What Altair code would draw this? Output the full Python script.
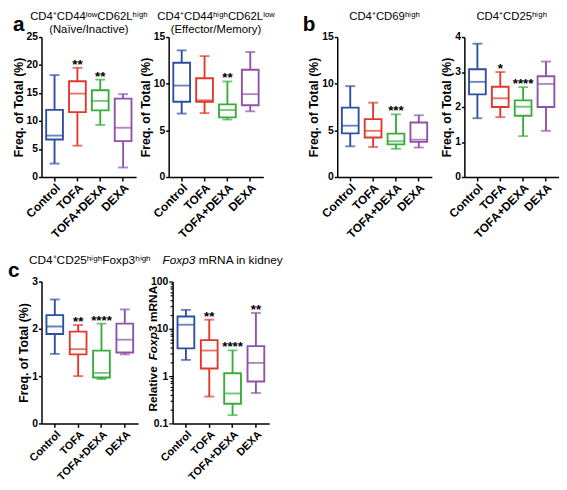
import altair as alt
import pandas as pd

FONT = "Liberation Sans"
cats = ["Control", "TOFA", "TOFA+DEXA", "DEXA"]
colors = ["#2d4fa1", "#e2382c", "#38ad3a", "#8f52a8"]

# Panel a (left): CD4+CD44low CD62Lhigh
naive_min = [2.4, 5.6, 9.3, 1.7]
naive_q1 = [6.7, 11.6, 11.9, 6.4]
naive_med = [7.4, 14.9, 13.6, 8.8]
naive_q3 = [12.0, 17.1, 15.5, 14.0]
naive_max = [18.2, 19.5, 17.4, 14.8]
naive_star = ["", "**", "**", ""]

# Panel a (right): CD4+CD44high CD62Llow
eff_min = [6.8, 6.85, 6.16, 7.04]
eff_q1 = [8.06, 8.06, 6.39, 7.69]
eff_med = [9.8, 8.22, 7.18, 8.88]
eff_q3 = [12.24, 10.58, 7.79, 11.5]
eff_max = [13.57, 12.96, 10.24, 13.4]
eff_star = ["", "", "**", ""]

# Panel b (left): CD4+CD69high
cd69_min = [3.29, 3.22, 3.02, 3.16]
cd69_q1 = [4.68, 4.24, 3.5, 3.77]
cd69_med = [5.5, 4.95, 3.83, 4.0]
cd69_q3 = [7.43, 6.2, 4.65, 5.84]
cd69_max = [9.74, 7.97, 6.72, 6.62]
cd69_star = ["", "", "***", ""]

# Panel b (right): CD4+CD25high
cd25_min = [1.68, 1.71, 1.17, 1.32]
cd25_q1 = [2.36, 2.0, 1.75, 2.0]
cd25_med = [2.72, 2.25, 2.01, 2.66]
cd25_q3 = [3.08, 2.58, 2.19, 2.88]
cd25_max = [3.81, 3.0, 2.57, 3.3]
cd25_star = ["", "*", "****", ""]

# Panel c (left): CD4+CD25high Foxp3high
foxf_min = [1.47, 1.0, 0.94, 1.46]
foxf_q1 = [1.89, 1.46, 0.97, 1.50]
foxf_med = [2.05, 1.57, 1.07, 1.77]
foxf_q3 = [2.29, 1.94, 1.54, 2.11]
foxf_max = [2.62, 2.08, 2.11, 2.41]
foxf_star = ["", "**", "****", ""]

# Panel c (right): Foxp3 mRNA in kidney (log scale)
mrna_min = [2.2, 0.37, 0.15, 0.44]
mrna_q1 = [3.86, 1.45, 0.26, 0.77]
mrna_med = [12.2, 3.47, 0.43, 1.9]
mrna_q3 = [18.2, 5.75, 1.15, 4.3]
mrna_max = [25.1, 15.6, 3.5, 21.6]
mrna_star = ["", "**", "****", "**"]

log_ticks = [round(m * 10 ** e, 6) for e in (-1, 0, 1) for m in range(1, 10)] + [100]

SW = 1.9
BOX = 17
CAP = 10


def frame(mins, q1s, meds, q3s, maxs, stars):
    return pd.DataFrame({"cat": cats, "lo": mins, "q1": q1s, "med": meds,
                         "q3": q3s, "hi": maxs, "star": stars})


def label(text, x, y, size=12, weight="normal", style="normal", align="center",
          angle=0, baseline="alphabetic"):
    return alt.Chart(pd.DataFrame({"t": [text]})).mark_text(
        font=FONT, fontSize=size, fontWeight=weight, fontStyle=style,
        align=align, baseline=baseline, angle=angle, color="black"
    ).encode(text="t:N", x=alt.value(x), y=alt.value(y))


def panel(df, domain, ticks, width, height, xlabel_size, ytitle="Freq. of Total (%)",
          log=False, extras=()):
    xenc = alt.X("cat:N", sort=cats,
                 scale=alt.Scale(domain=cats, paddingInner=0, paddingOuter=0.07),
                 axis=alt.Axis(title=None, labelAngle=-45, labelFont=FONT,
                               labelFontSize=xlabel_size, labelFontWeight="bold",
                               labelColor="black", labelPadding=1, tickSize=4,
                               tickWidth=1.5, tickColor="black", domainColor="black",
                               domainWidth=1.5, bandPosition=0.5, grid=False,
                               labelOverlap=False))
    if log:
        major = "abs(log(datum.value)/LN10 - round(log(datum.value)/LN10)) < 0.001"
        yaxis = alt.Axis(values=ticks, title=None, format="~g",
                         labelExpr=f"{major} ? datum.label : ''",
                         tickSize={"condition": {"test": major, "value": 4}, "value": 2.5},
                         labelFont=FONT, labelFontSize=10.5, labelFontWeight="bold",
                         labelColor="black", labelPadding=1, tickWidth=1.2,
                         tickColor="black", domainColor="black", domainWidth=1.5,
                         grid=False)
        yscale = alt.Scale(type="log", domain=domain, nice=False)
    else:
        yaxis = alt.Axis(values=ticks, title=ytitle, format="~g", titleFont=FONT,
                         titleFontSize=12.5, titleFontWeight="bold", titleColor="black",
                         titlePadding=1, labelFont=FONT, labelFontSize=10.5,
                         labelFontWeight="bold", labelColor="black", labelPadding=1,
                         tickSize=3, tickWidth=1.5, tickColor="black",
                         domainColor="black", domainWidth=1.5, grid=False)
        yscale = alt.Scale(domain=domain, nice=False, zero=True)

    col = alt.Color("cat:N", scale=alt.Scale(domain=cats, range=colors), legend=None)
    stroke = alt.Stroke("cat:N", scale=alt.Scale(domain=cats, range=colors), legend=None)
    base = alt.Chart(df)
    whisk = base.mark_rule(strokeWidth=SW).encode(
        x=xenc, y=alt.Y("lo:Q", scale=yscale, axis=yaxis), y2="hi:Q", color=col)
    box = base.mark_bar(size=BOX, fill="white", strokeWidth=SW).encode(
        x=xenc, y=alt.Y("q1:Q", scale=yscale, axis=yaxis), y2="q3:Q", stroke=stroke)
    med = base.mark_tick(size=BOX, thickness=SW).encode(
        x=xenc, y=alt.Y("med:Q", scale=yscale, axis=yaxis), color=col)
    lo = base.mark_tick(size=CAP, thickness=SW).encode(
        x=xenc, y=alt.Y("lo:Q", scale=yscale, axis=yaxis), color=col)
    hi = base.mark_tick(size=CAP, thickness=SW).encode(
        x=xenc, y=alt.Y("hi:Q", scale=yscale, axis=yaxis), color=col)
    stars = base.mark_text(font=FONT, fontSize=13.5, fontWeight="bold",
                           baseline="alphabetic", dy=1, color="black").encode(
        x=xenc, y=alt.Y("hi:Q", scale=yscale, axis=yaxis), text="star:N")
    return alt.layer(whisk, box, med, lo, hi, stars, *extras).properties(
        width=width, height=height)


W1, H1 = 96, 142
W2, H2 = 98, 144

a1 = panel(frame(naive_min, naive_q1, naive_med, naive_q3, naive_max, naive_star),
           [0, 25], [0, 5, 10, 15, 20, 25], W1, H1, 12,
           extras=[label("CD4⁺CD44ˡᵒʷCD62Lʰⁱᵍʰ", W1 / 2, -17, size=11.5),
                   label("(Naïve/Inactive)", W1 / 2, -4, size=11.5),
                   label("a", -29, -6, size=21, weight="bold", align="left")])
a2 = panel(frame(eff_min, eff_q1, eff_med, eff_q3, eff_max, eff_star),
           [0, 15], [0, 5, 10, 15], W1, H1, 12,
           extras=[label("CD4⁺CD44ʰⁱᵍʰCD62Lˡᵒʷ", W1 / 2, -17, size=11.5),
                   label("(Effector/Memory)", W1 / 2, -4, size=11.5)])
b1 = panel(frame(cd69_min, cd69_q1, cd69_med, cd69_q3, cd69_max, cd69_star),
           [0, 15], [0, 5, 10, 15], W1, H1, 12,
           extras=[label("CD4⁺CD69ʰⁱᵍʰ", W1 / 2, -17, size=11.5),
                   label("b", -35, -6, size=21, weight="bold", align="left")])
b2 = panel(frame(cd25_min, cd25_q1, cd25_med, cd25_q3, cd25_max, cd25_star),
           [0, 4], [0, 1, 2, 3, 4], W1, H1, 12,
           extras=[label("CD4⁺CD25ʰⁱᵍʰ", W1 / 2, -17, size=11.5)])
c1 = panel(frame(foxf_min, foxf_q1, foxf_med, foxf_q3, foxf_max, foxf_star),
           [0, 3], [0, 1, 2, 3], W2, H2, 11,
           extras=[label("CD4⁺CD25ʰⁱᵍʰFoxp3ʰⁱᵍʰ", W2 / 2, -18),
                   label("c", -34, -5, size=21, weight="bold", align="left")])
c2 = panel(frame(mrna_min, mrna_q1, mrna_med, mrna_q3, mrna_max, mrna_star),
           [0.1, 100], log_ticks, W2, H2, 11, log=True,
           extras=[label("Foxp3", 23, -18, style="italic", align="right"),
                   label("mRNA in kidney", 26.5, -18, align="left"),
                   label("Relative", -20, 132, size=12, weight="bold", align="left",
                         angle=270, baseline="middle"),
                   label("Foxp3", -20, 132 - 52, size=12, weight="bold", style="italic",
                         align="left", angle=270, baseline="middle"),
                   label("mRNA", -20, 132 - 52 - 39, size=12, weight="bold",
                         align="left", angle=270, baseline="middle")])


def spacer(w):
    return alt.Chart(pd.DataFrame({"v": [0]})).mark_point(opacity=0).encode(
        x=alt.value(0), y=alt.value(0)).properties(width=w, height=10)


row1 = alt.hconcat(a1, a2, spacer(9), b1, b2, spacing=33, bounds="flush")
row2 = alt.hconcat(c1, c2, spacing=35, bounds="flush")
chart = alt.vconcat(row1, row2, spacing=14).properties(
    padding=0
).configure(font=FONT, view=alt.ViewConfig(stroke=None))

chart.save("out.html", embed_options={"renderer": "svg", "actions": False})
